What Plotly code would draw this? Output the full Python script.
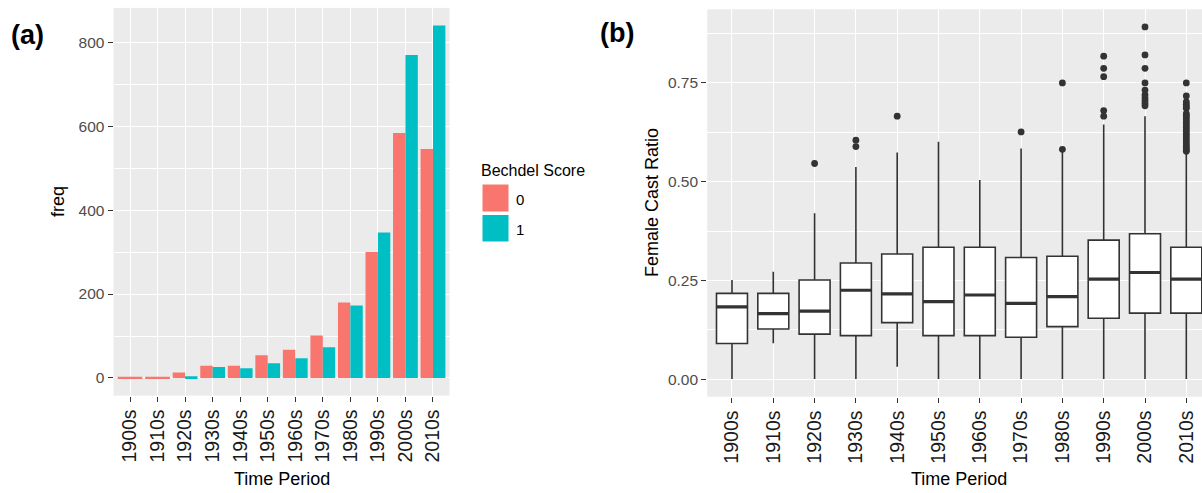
import plotly.graph_objects as go

# ---------------- data ----------------
periods = ["1900s", "1910s", "1920s", "1930s", "1940s", "1950s",
           "1960s", "1970s", "1980s", "1990s", "2000s", "2010s"]

# panel (a): counts per Bechdel score
score0 = [3, 3, 13, 29, 29, 54, 67, 101, 180, 300, 584, 546]
score1 = [None, None, 4, 26, 23, 35, 47, 73, 173, 347, 770, 840]

# panel (b): female cast ratio box statistics
lower_whisker = [0.0, 0.091, 0.0, 0.0, 0.031, 0.0, 0.0, 0.0, 0.0, 0.0, 0.0, 0.0]
q1 = [0.090, 0.127, 0.114, 0.110, 0.143, 0.110, 0.110, 0.106, 0.133, 0.154, 0.167, 0.167]
median = [0.183, 0.166, 0.172, 0.225, 0.216, 0.196, 0.213, 0.192, 0.209, 0.253, 0.270, 0.253]
q3 = [0.217, 0.217, 0.251, 0.294, 0.317, 0.334, 0.334, 0.308, 0.311, 0.352, 0.368, 0.334]
upper_whisker = [0.251, 0.272, 0.420, 0.537, 0.574, 0.601, 0.504, 0.584, 0.576, 0.645, 0.666, 0.576]

outlier_period = (["1920s"] + ["1930s"] * 2 + ["1940s"] + ["1970s"] + ["1980s"] * 2
                  + ["1990s"] * 5 + ["2000s"] * 10 + ["2010s"] * 24)
outlier_value = ([0.546]
                 + [0.605, 0.589]
                 + [0.666]
                 + [0.626]
                 + [0.750, 0.582]
                 + [0.818, 0.787, 0.766, 0.680, 0.666]
                 + [0.892, 0.821, 0.787, 0.750, 0.732, 0.720, 0.712, 0.705, 0.698, 0.692]
                 + [0.750, 0.717, 0.702, 0.696, 0.690, 0.686, 0.672, 0.667, 0.662, 0.656,
                    0.650, 0.644, 0.638, 0.632, 0.626, 0.620, 0.614, 0.608, 0.602, 0.596,
                    0.590, 0.585, 0.580, 0.577])

legend_title = "Bechdel Score"
legend_labels = ["0", "1"]

# ---------------- styling ----------------
W, H = 1202, 493
RED, TEAL = "#F8766D", "#00BFC4"
DARK = "#333333"
FONT = "Liberation Sans, Arial, sans-serif"


def px_x(v):
    return v / W


def px_y(v):
    return 1 - v / H


bar_w = [0.9 if b is None else 0.45 for b in score1]

fig = go.Figure()
fig.add_trace(go.Bar(x=periods, y=score0, width=bar_w, offset=[-0.45] * len(periods),
                     marker=dict(color=RED, line=dict(width=0)), showlegend=False,
                     xaxis="x", yaxis="y"))
fig.add_trace(go.Bar(x=periods, y=score1, width=[0.45] * len(periods), offset=[0.0] * len(periods),
                     marker=dict(color=TEAL, line=dict(width=0)), showlegend=False,
                     xaxis="x", yaxis="y"))

fig.add_trace(go.Box(x=periods, q1=q1, median=median, q3=q3,
                     lowerfence=lower_whisker, upperfence=upper_whisker,
                     width=0.75, fillcolor="white", line=dict(color=DARK, width=1.6),
                     boxpoints=False, whiskerwidth=0, showlegend=False,
                     xaxis="x2", yaxis="y2"))
# thicker median bar
fig.add_trace(go.Box(x=periods, q1=median, median=median, q3=median,
                     lowerfence=median, upperfence=median,
                     width=0.75, fillcolor="rgba(0,0,0,0)", line=dict(color=DARK, width=3.2),
                     boxpoints=False, whiskerwidth=0, showlegend=False,
                     xaxis="x2", yaxis="y2"))
fig.add_trace(go.Scatter(x=outlier_period, y=outlier_value, mode="markers",
                         marker=dict(color=DARK, size=6.8, line=dict(width=0)),
                         showlegend=False, xaxis="x2", yaxis="y2"))

common_x = dict(type="category", categoryorder="array", categoryarray=periods,
                showgrid=True, gridcolor="white", gridwidth=1.4, zeroline=False,
                showline=False, ticks="outside", ticklen=5, tickwidth=1.1, tickcolor=DARK,
                tickangle=-90, automargin=False,
                tickfont=dict(size=19.5, color="#1a1a1a", family=FONT))
common_y = dict(showgrid=True, gridcolor="white", gridwidth=1.4, zeroline=False,
                showline=False, ticks="outside", ticklen=5, tickwidth=1.1, tickcolor=DARK,
                automargin=False,
                tickfont=dict(size=15.5, color="#4D4D4D", family=FONT))

fig.update_layout(
    width=W, height=H,
    margin=dict(l=0, r=0, t=0, b=0, pad=0, autoexpand=False),
    paper_bgcolor="white", plot_bgcolor="#EBEBEB",
    barmode="overlay", boxmode="overlay",
    font=dict(family=FONT, color="black"),
    xaxis=dict(common_x, domain=[px_x(113.5), px_x(449.5)], range=[-0.6, 11.6], anchor="y"),
    yaxis=dict(common_y, domain=[px_y(395.6), px_y(7.9)], range=[-42, 882],
               tickvals=[0, 200, 400, 600, 800], anchor="x",
               minor=dict(tickvals=[100, 300, 500, 700], showgrid=True,
                          gridcolor="white", gridwidth=0.7, ticks="")),
    xaxis2=dict(common_x, domain=[px_x(707.2), 1.0], range=[-0.6, 11.38], anchor="y2"),
    yaxis2=dict(common_y, domain=[px_y(396.7), px_y(9.3)], range=[-0.0446, 0.9366],
                tickvals=[0, 0.25, 0.5, 0.75], ticktext=["0.00", "0.25", "0.50", "0.75"],
                anchor="x2",
                minor=dict(tickvals=[0.125, 0.375, 0.625, 0.875], showgrid=True,
                           gridcolor="white", gridwidth=0.7, ticks="")),
)

annotations = [
    dict(text="<b>(a)</b>", x=px_x(27), y=px_y(35), font=dict(size=27, family=FONT, color="black"),
         xanchor="center", yanchor="middle", showarrow=False),
    dict(text="<b>(b)</b>", x=px_x(617), y=px_y(33), font=dict(size=27, family=FONT, color="black"),
         xanchor="center", yanchor="middle", showarrow=False),
    dict(text="freq", x=px_x(58), y=px_y(202), textangle=-90, font=dict(size=18, family=FONT),
         xanchor="center", yanchor="middle", showarrow=False),
    dict(text="Female Cast Ratio", x=px_x(652), y=px_y(203), textangle=-90,
         font=dict(size=18, family=FONT), xanchor="center", yanchor="middle", showarrow=False),
    dict(text="Time Period", x=px_x(281.5), y=px_y(479), font=dict(size=18, family=FONT),
         xanchor="center", yanchor="middle", showarrow=False),
    dict(text="Time Period", x=px_x(959), y=px_y(479), font=dict(size=18, family=FONT),
         xanchor="center", yanchor="middle", showarrow=False),
    dict(text=legend_title, x=px_x(479), y=px_y(170), font=dict(size=16, family=FONT),
         xanchor="left", yanchor="middle", showarrow=False),
    dict(text=legend_labels[0], x=px_x(514), y=px_y(199), font=dict(size=15, family=FONT),
         xanchor="left", yanchor="middle", showarrow=False),
    dict(text=legend_labels[1], x=px_x(514), y=px_y(229), font=dict(size=15, family=FONT),
         xanchor="left", yanchor="middle", showarrow=False),
]
for a in annotations:
    a.update(xref="paper", yref="paper")
fig.update_layout(annotations=annotations)

shapes = [
    dict(type="rect", xref="paper", yref="paper", x0=px_x(482), x1=px_x(509),
         y0=px_y(212), y1=px_y(184), fillcolor=RED, line=dict(color="white", width=1)),
    dict(type="rect", xref="paper", yref="paper", x0=px_x(482), x1=px_x(509),
         y0=px_y(242), y1=px_y(214.5), fillcolor=TEAL, line=dict(color="white", width=1)),
]
fig.update_layout(shapes=shapes)

fig.write_html("out.html", config={"displayModeBar": False},
               post_script="document.body.style.margin='0';document.body.style.overflow='hidden';")
